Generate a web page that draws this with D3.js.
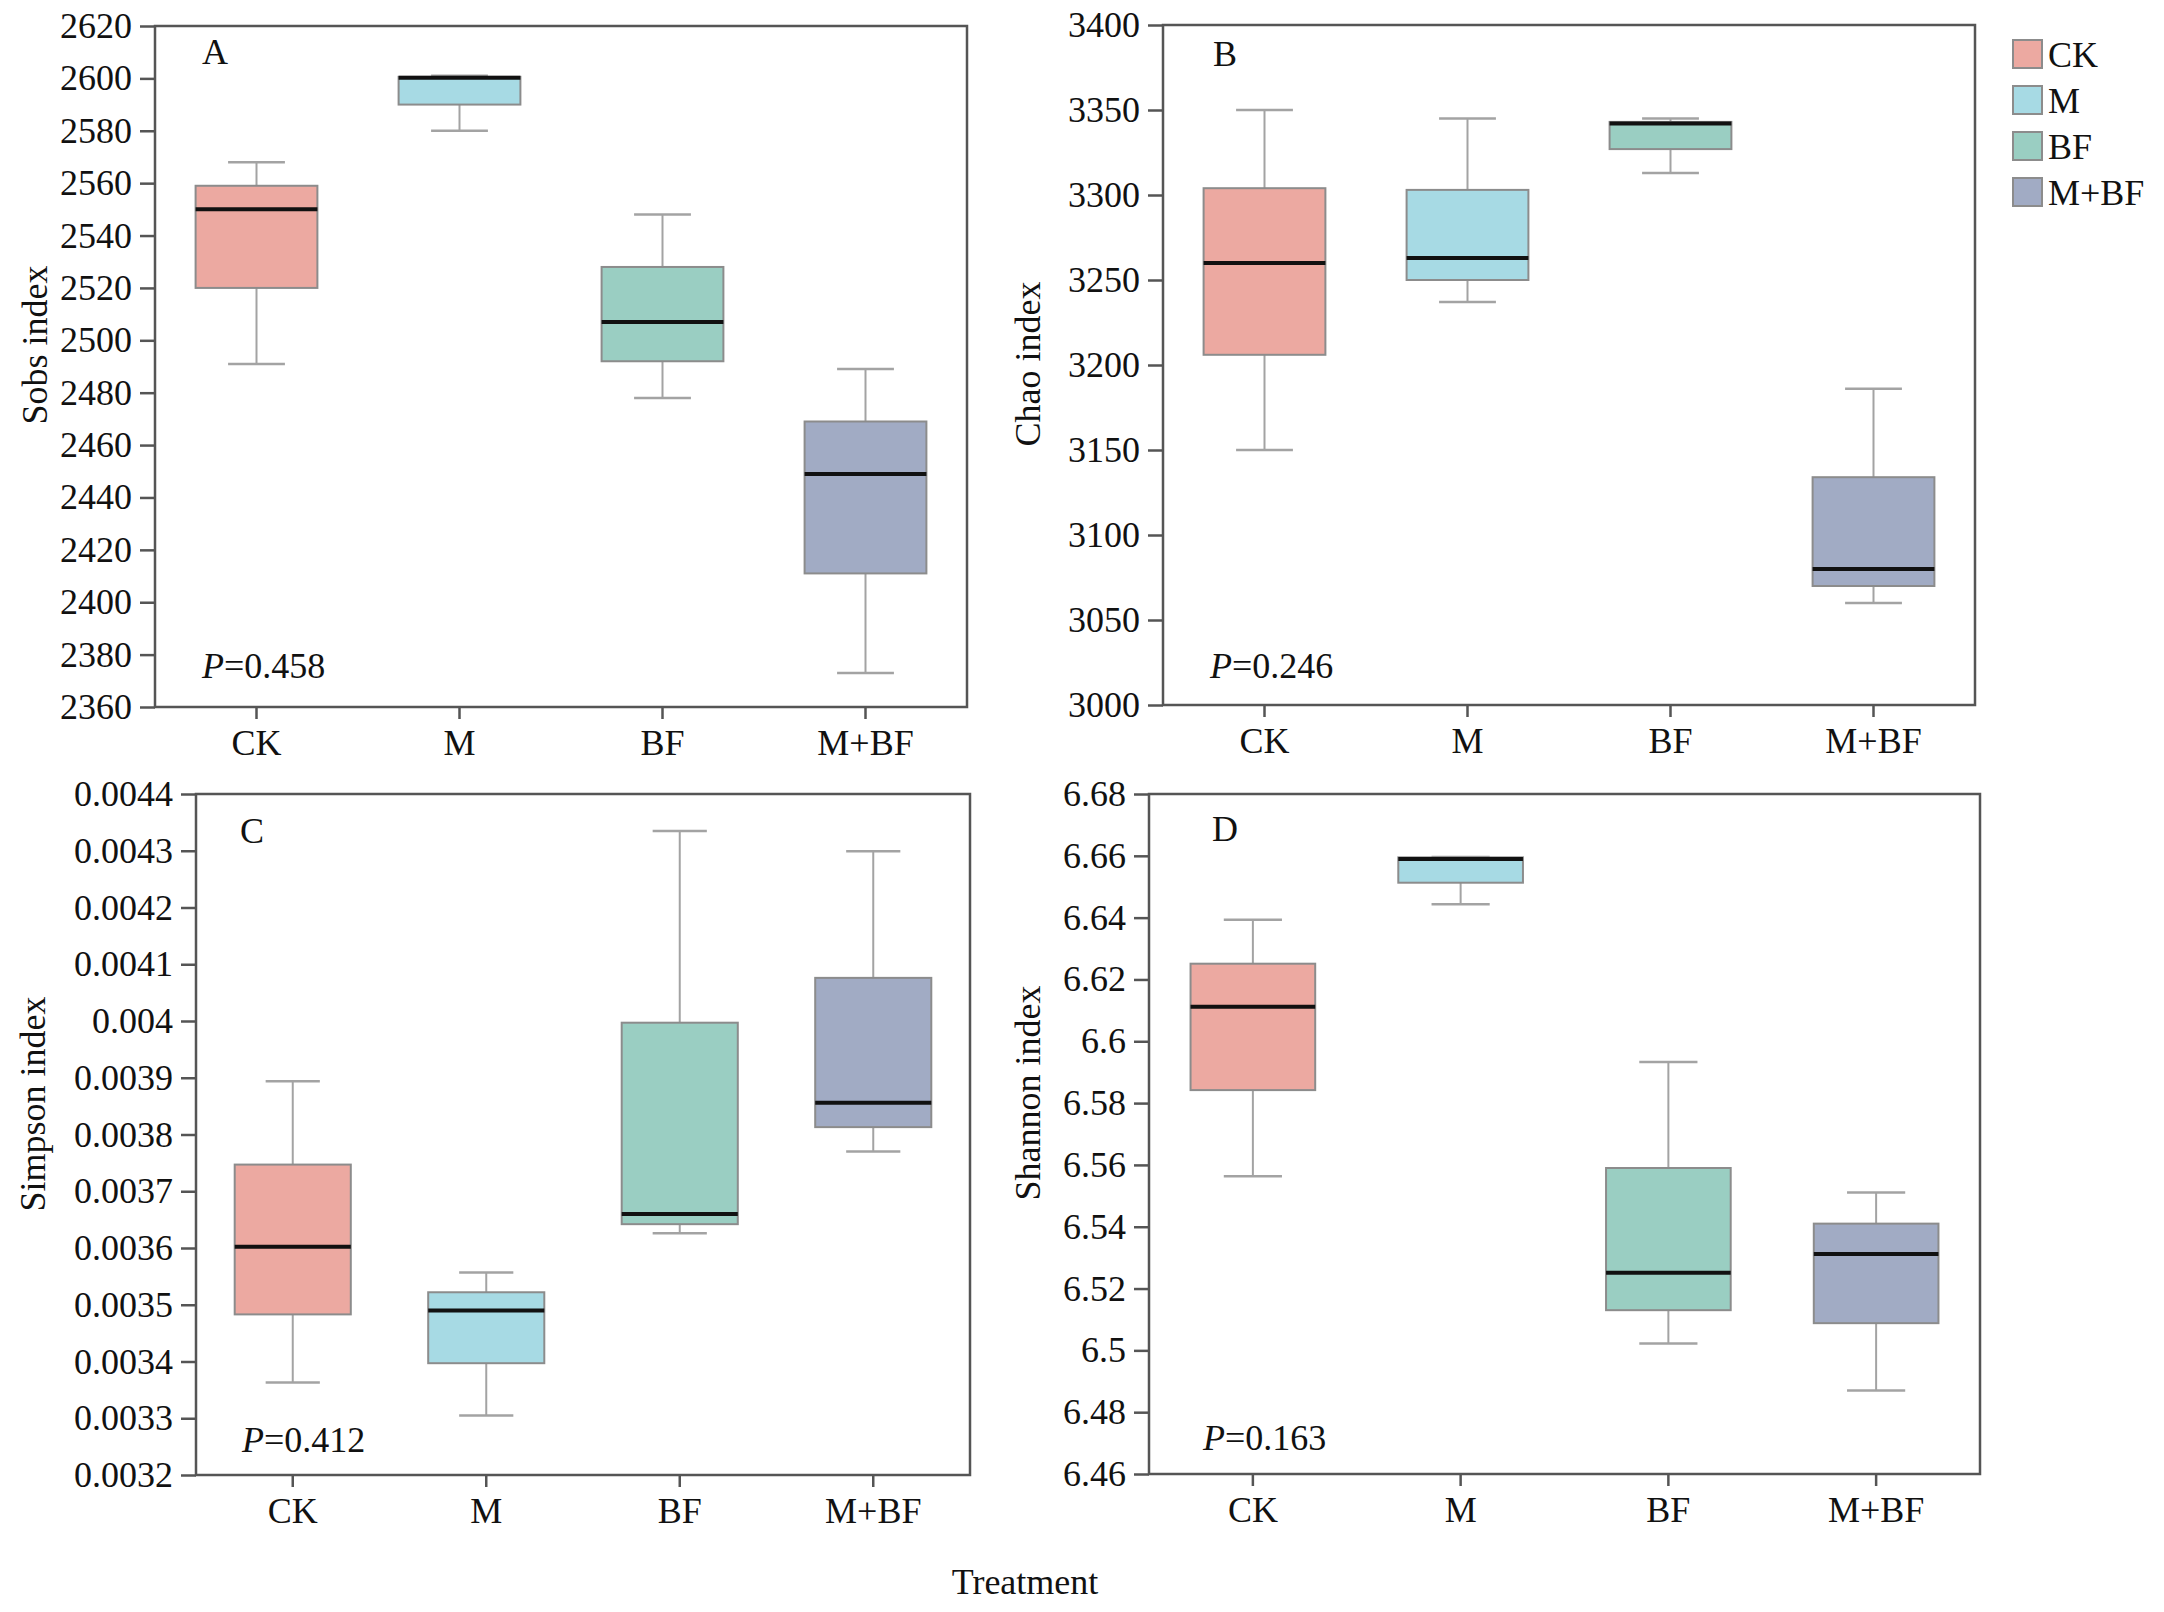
<!DOCTYPE html>
<html>
<head>
<meta charset="utf-8">
<script src="https://cdn.jsdelivr.net/npm/d3@7"></script>
<style>
  body { margin: 0; background: #fff; }
  text { font-family: "Liberation Serif", "Times New Roman", serif; fill: #111; }
</style>
</head>
<body>
<svg id="chart" width="2164" height="1612"></svg>
<script>
// ===== data =====
var categories = ["CK", "M", "BF", "M+BF"]
var fillColors = ["#eca9a1", "#a7dae4", "#9acec2", "#a1abc4"]

// each row: [lower whisker, Q1, median, Q3, upper whisker]
var sobsStats = [
    [2491, 2520, 2550, 2559, 2568],
    [2580, 2590, 2600.2, 2600.6, 2601],
    [2478, 2492, 2507, 2528, 2548],
    [2373, 2411, 2449, 2469, 2489]
]
var chaoStats = [
    [3150, 3206, 3260, 3304, 3350],
    [3237, 3250, 3263, 3303, 3345],
    [3313, 3327, 3342, 3343, 3345],
    [3060, 3070, 3080, 3134, 3186]
]
var simpsonStats = [
    [0.003363, 0.003483, 0.003602, 0.003747, 0.003894],
    [0.003305, 0.003397, 0.003490, 0.003522, 0.003557],
    [0.003626, 0.003642, 0.003660, 0.003997, 0.004335],
    [0.003770, 0.003813, 0.003856, 0.004076, 0.004299]
]
var shannonStats = [
    [6.5563, 6.5842, 6.6112, 6.6251, 6.6393],
    [6.6443, 6.6513, 6.6590, 6.6595, 6.6596],
    [6.5022, 6.5130, 6.5251, 6.5590, 6.5933],
    [6.4870, 6.5088, 6.5312, 6.5410, 6.5511]
]

var sobsTicks = ["2620","2600","2580","2560","2540","2520","2500","2480","2460","2440","2420","2400","2380","2360"]
var chaoTicks = ["3400","3350","3300","3250","3200","3150","3100","3050","3000"]
var simpsonTicks = ["0.0044","0.0043","0.0042","0.0041","0.004","0.0039","0.0038","0.0037","0.0036","0.0035","0.0034","0.0033","0.0032"]
var shannonTicks = ["6.68","6.66","6.64","6.62","6.6","6.58","6.56","6.54","6.52","6.5","6.48","6.46"]

var svg = d3.select("#chart")
svg.append("rect").attr("width", 2164).attr("height", 1612).attr("fill", "white")

function boxPanel(opt){
    var g = svg.append("g")
    var tickVals = opt.ticks.map(Number)

    var x = d3.scaleBand()
        .domain(categories)
        .range([opt.left, opt.right])
        .padding(0)

    var y = d3.scaleLinear()
        .domain(d3.extent(tickVals))
        .range([opt.bottom, opt.top])

    var bw = x.bandwidth()
    var boxW = bw * 0.6
    var capW = bw * 0.28

    // y axis
    var yAxis = g.append("g")
        .attr("transform", "translate(" + opt.left + ",0)")
        .call(d3.axisLeft(y)
            .tickValues(tickVals)
            .tickFormat(function(d, i){ return opt.ticks[i] })
            .tickSize(15)
            .tickSizeOuter(0)
            .tickPadding(8))
    yAxis.select(".domain").remove()

    // x axis
    var xAxis = g.append("g")
        .attr("transform", "translate(0," + opt.bottom + ")")
        .call(d3.axisBottom(x)
            .tickSize(12)
            .tickSizeOuter(0)
            .tickPadding(10))
    xAxis.select(".domain").remove()

    g.selectAll(".tick line").attr("stroke", "#555").attr("stroke-width", 2.5)
    g.selectAll(".tick text")
        .attr("font-size", "36px")
        .attr("font-family", "Liberation Serif, Times New Roman, serif")
        .attr("fill", "#111")

    // frame
    g.append("rect")
        .attr("x", opt.left)
        .attr("y", opt.top)
        .attr("width", opt.right - opt.left)
        .attr("height", opt.bottom - opt.top)
        .attr("fill", "none")
        .attr("stroke", "#555")
        .attr("stroke-width", 2.5)

    var boxes = g.selectAll(".box")
        .data(opt.stats)
        .enter()
        .append("g")
        .attr("class", "box")

    function cx(i){ return x(categories[i]) + bw / 2 }

    // whiskers
    boxes.append("line")
        .attr("x1", function(d, i){ return cx(i) })
        .attr("x2", function(d, i){ return cx(i) })
        .attr("y1", function(d){ return y(d[0]) })
        .attr("y2", function(d){ return y(d[1]) })
        .attr("stroke", "#a3a3a3").attr("stroke-width", 2)
    boxes.append("line")
        .attr("x1", function(d, i){ return cx(i) })
        .attr("x2", function(d, i){ return cx(i) })
        .attr("y1", function(d){ return y(d[3]) })
        .attr("y2", function(d){ return y(d[4]) })
        .attr("stroke", "#a3a3a3").attr("stroke-width", 2)
    // caps
    boxes.append("line")
        .attr("x1", function(d, i){ return cx(i) - capW / 2 })
        .attr("x2", function(d, i){ return cx(i) + capW / 2 })
        .attr("y1", function(d){ return y(d[0]) })
        .attr("y2", function(d){ return y(d[0]) })
        .attr("stroke", "#a3a3a3").attr("stroke-width", 2.5)
    boxes.append("line")
        .attr("x1", function(d, i){ return cx(i) - capW / 2 })
        .attr("x2", function(d, i){ return cx(i) + capW / 2 })
        .attr("y1", function(d){ return y(d[4]) })
        .attr("y2", function(d){ return y(d[4]) })
        .attr("stroke", "#a3a3a3").attr("stroke-width", 2.5)

    // box
    boxes.append("rect")
        .attr("x", function(d, i){ return cx(i) - boxW / 2 })
        .attr("width", boxW)
        .attr("y", function(d){ return y(d[3]) })
        .attr("height", function(d){ return Math.max(1, y(d[1]) - y(d[3])) })
        .attr("fill", function(d, i){ return fillColors[i] })
        .attr("stroke", "#8c8c8c")
        .attr("stroke-width", 2)

    // median
    boxes.append("line")
        .attr("x1", function(d, i){ return cx(i) - boxW / 2 })
        .attr("x2", function(d, i){ return cx(i) + boxW / 2 })
        .attr("y1", function(d){ return y(d[2]) })
        .attr("y2", function(d){ return y(d[2]) })
        .attr("stroke", "#111").attr("stroke-width", 4)

    // panel letter
    g.append("text")
        .attr("x", opt.letterX)
        .attr("y", opt.letterY)
        .attr("font-size", "36px")
        .text(opt.letter)

    // P value
    var p = g.append("text")
        .attr("x", opt.pX)
        .attr("y", opt.pY)
        .attr("font-size", "36px")
    p.append("tspan").attr("font-style", "italic").text("P")
    p.append("tspan").text("=" + opt.p)

    // y title
    g.append("text")
        .attr("transform", "translate(" + opt.titleX + "," + opt.titleY + ") rotate(-90)")
        .attr("text-anchor", "middle")
        .attr("font-size", "36px")
        .text(opt.title)
}

boxPanel({stats: sobsStats, ticks: sobsTicks, left: 155, right: 967, top: 26, bottom: 707,
    letter: "A", letterX: 202, letterY: 64, p: "0.458", pX: 202, pY: 678,
    title: "Sobs index", titleX: 47, titleY: 345})
boxPanel({stats: chaoStats, ticks: chaoTicks, left: 1163, right: 1975, top: 25, bottom: 705,
    letter: "B", letterX: 1213, letterY: 66, p: "0.246", pX: 1210, pY: 678,
    title: "Chao index", titleX: 1040, titleY: 364})
boxPanel({stats: simpsonStats, ticks: simpsonTicks, left: 196, right: 970, top: 794, bottom: 1475,
    letter: "C", letterX: 240, letterY: 843, p: "0.412", pX: 242, pY: 1452,
    title: "Simpson index", titleX: 45, titleY: 1104})
boxPanel({stats: shannonStats, ticks: shannonTicks, left: 1149, right: 1980, top: 794, bottom: 1474,
    letter: "D", letterX: 1212, letterY: 841, p: "0.163", pX: 1203, pY: 1450,
    title: "Shannon index", titleX: 1040, titleY: 1093})

// legend
var legend = svg.append("g")
categories.forEach(function(c, i){
    legend.append("rect")
        .attr("x", 2013)
        .attr("y", 40 + i * 46)
        .attr("width", 29)
        .attr("height", 28)
        .attr("fill", fillColors[i])
        .attr("stroke", "#8c8c8c")
        .attr("stroke-width", 2)
    legend.append("text")
        .attr("x", 2048)
        .attr("y", 67 + i * 46)
        .attr("font-size", "36px")
        .text(c)
})

// shared x title
svg.append("text")
    .attr("x", 1025)
    .attr("y", 1594)
    .attr("text-anchor", "middle")
    .attr("font-size", "36px")
    .text("Treatment")
</script>
</body>
</html>
